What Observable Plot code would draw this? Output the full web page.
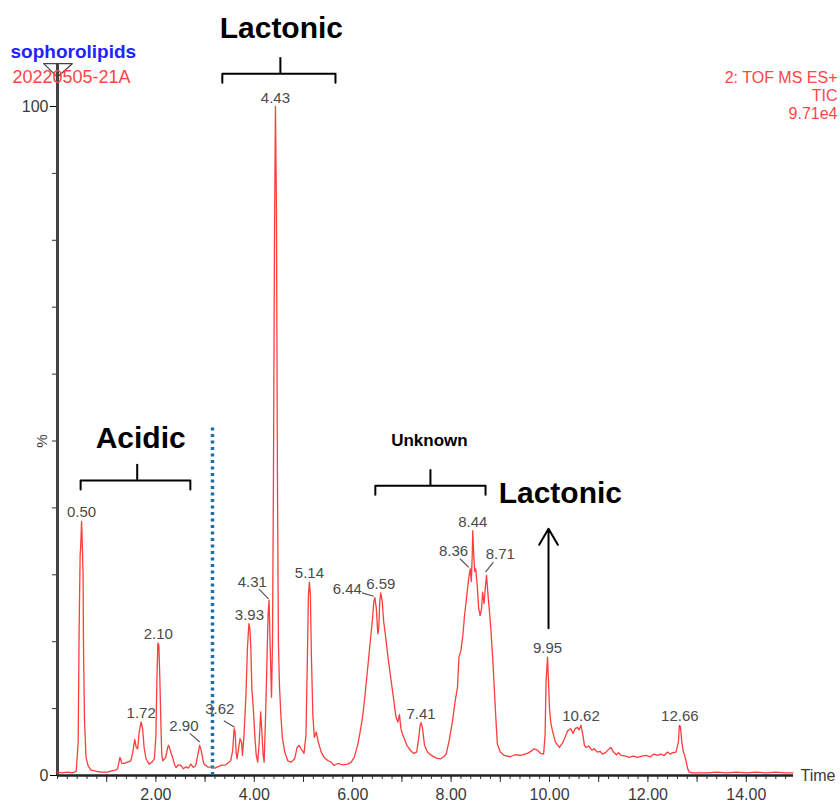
<!DOCTYPE html>
<html>
<head>
<meta charset="utf-8">
<script src="https://cdn.jsdelivr.net/npm/d3@7"></script>
<script src="https://cdn.jsdelivr.net/npm/@observablehq/plot@0.6"></script>
<style>
  html, body { margin: 0; padding: 0; background: #fff; }
  #chart svg { display: block; }
</style>
</head>
<body>
<div id="chart"></div>
<script>
// ---- Chromatogram trace (retention time in min, relative intensity %) ----
const times = [0.00,0.10,0.20,0.30,0.38,0.42,0.44,0.46,0.47,0.49,0.51,0.52,0.53,0.55,0.58,0.62,0.68,0.80,0.90,1.02,1.10,1.18,1.22,1.27,1.31,1.36,1.42,1.49,1.53,1.57,1.60,1.63,1.66,1.70,1.73,1.76,1.80,1.86,1.92,1.97,2.00,2.02,2.04,2.06,2.08,2.10,2.12,2.14,2.20,2.24,2.26,2.29,2.34,2.38,2.41,2.46,2.51,2.56,2.61,2.66,2.71,2.76,2.81,2.85,2.89,2.92,2.96,2.98,3.05,3.12,3.20,3.32,3.42,3.52,3.56,3.59,3.61,3.63,3.65,3.68,3.71,3.74,3.76,3.79,3.83,3.86,3.89,3.91,3.93,3.95,3.98,4.01,4.04,4.07,4.10,4.13,4.15,4.18,4.20,4.23,4.26,4.28,4.30,4.32,4.35,4.37,4.39,4.41,4.43,4.45,4.47,4.49,4.51,4.54,4.57,4.62,4.68,4.75,4.82,4.87,4.91,4.95,5.01,5.05,5.08,5.10,5.12,5.14,5.16,5.19,5.22,5.26,5.30,5.36,5.42,5.50,5.56,5.62,5.70,5.80,5.90,5.97,6.03,6.10,6.15,6.20,6.25,6.30,6.35,6.40,6.43,6.45,6.48,6.51,6.53,6.55,6.57,6.60,6.63,6.67,6.72,6.78,6.83,6.88,6.92,6.95,6.98,7.01,7.05,7.10,7.18,7.24,7.30,7.34,7.37,7.39,7.42,7.46,7.52,7.60,7.70,7.79,7.85,7.90,7.96,8.03,8.08,8.13,8.16,8.20,8.24,8.27,8.32,8.36,8.39,8.41,8.43,8.44,8.46,8.48,8.50,8.53,8.56,8.59,8.62,8.64,8.67,8.70,8.72,8.75,8.78,8.81,8.85,8.88,8.91,8.94,9.00,9.08,9.20,9.30,9.42,9.55,9.62,9.69,9.75,9.82,9.88,9.91,9.93,9.96,9.98,10.00,10.03,10.06,10.12,10.20,10.26,10.32,10.37,10.43,10.48,10.52,10.57,10.60,10.64,10.68,10.71,10.74,10.80,10.86,10.91,10.97,11.03,11.08,11.15,11.20,11.25,11.30,11.36,11.40,11.46,11.55,11.62,11.70,11.79,11.88,11.96,12.05,12.12,12.20,12.26,12.33,12.40,12.45,12.50,12.57,12.62,12.64,12.66,12.69,12.72,12.74,12.78,12.81,12.84,12.90,13.00,13.20,13.40,13.60,13.80,14.00,14.20,14.40,14.60,14.80,14.95];
const intensity = [0.5,0.4,0.5,0.4,0.6,5,22,33,34,38,33,30,18,8,2.7,1.5,0.8,0.6,0.5,0.5,0.7,0.8,1.0,2.7,1.8,1.8,2.0,2.2,3.5,5.4,4.2,4.0,6.5,8.0,7.0,4.2,2.5,1.7,2.0,2.5,6,14.2,19.8,19.5,14.5,8,3,2.2,2.7,4.2,4.5,3.8,2.7,1.6,1.2,1.6,1.5,1.0,1.3,1.1,1.7,1.2,1.5,3,4.5,3.8,2.2,1.7,1.3,1.2,1.1,1.5,1.6,2.2,3.7,7.0,6.5,3.5,2.5,4,5.5,5.0,3,6,12,19,22.7,22,19,13,10,6,3,2.0,5,9.5,7,3,2.0,9,18,24,26.2,20,11.7,20,45,80,100,85,45,20,13.7,9,5.7,3.5,2.2,2.0,2.5,4.2,4.5,4.0,3.3,6,18,27,28.9,27,18,9,5.7,6.5,5.0,3.5,2.7,2.2,2.0,1.5,1.8,1.6,1.7,2.0,2.7,4.5,6.5,8.7,12,15.7,19.5,23.2,26,26.6,25,21.2,22,26,27.3,26,23,20.7,17.5,14.2,11.5,8.7,8.0,9.1,7.0,6.2,5.5,4.5,3.7,3.3,3.5,5.5,7.5,7.9,7.0,4.5,3.5,3.0,2.6,2.5,2.8,3.2,5.2,8.2,11,13.2,17.7,18.7,21,23.7,27,29.6,30.9,29,33,36.6,33,30.5,30.9,28.5,25,23.9,25,27.4,25.7,28.5,29.9,27,24.5,21.7,17,12.7,8.5,4.7,3.5,3.0,2.8,3.1,3.0,3.3,3.6,4.0,3.8,3.3,3.2,6,14,17.7,14,10,7.7,6.7,5.0,4.2,4.8,5.8,6.7,7.0,6.3,7.0,7.2,6.8,7.5,6.0,4.5,4.2,4.4,3.8,4.0,3.5,3.6,3.2,3.5,3.9,4.2,3.5,3.1,3.4,3.0,2.9,2.7,2.9,2.7,2.9,3.0,2.8,3.2,3.0,3.2,3.0,3.5,3.2,3.4,3.5,5,7.5,7.3,5,3.5,3.2,2.0,1.0,0.5,0.4,0.4,0.4,0.5,0.4,0.5,0.4,0.5,0.4,0.5,0.4,0.4];

// ---- Peak labels placed directly above the apex ----
const peakLabels = ["0.50","1.72","2.10","3.93","4.43","5.14","6.59","7.41","8.44","9.95","10.62","12.66"];
const peakTimes  = [0.49, 1.70, 2.05, 3.90, 4.43, 5.12, 6.57, 7.39, 8.44, 9.96, 10.64, 12.65];
const peakHeights= [38, 8.0, 19.8, 22.7, 100, 28.9, 27.3, 7.9, 36.6, 17.7, 7.5, 7.5];

// ---- Peak labels with a leader line (label position, line start, line end) ----
const leaderLabels = ["2.90","3.62","4.31","6.44","8.36","8.71"];
const leaderTextT  = [2.57, 3.30, 3.96, 5.89, 8.05, 9.00];
const leaderTextY  = [7.3, 9.9, 28.9, 27.9, 33.6, 33.1];
const leaderFromT  = [2.69, 3.38, 4.09, 6.19, 8.18, 8.86];
const leaderFromY  = [6.3, 8.2, 27.9, 27.3, 32.4, 31.9];
const leaderToT    = [2.89, 3.60, 4.29, 6.43, 8.36, 8.70];
const leaderToY    = [5.0, 7.2, 26.4, 26.8, 31.1, 30.4];

// ---- Axis ticks ----
const xLabelTicks = [2, 4, 6, 8, 10, 12, 14];
const xMajorTicks = d3.range(1, 15);
const xMinorTicks = d3.range(0, 75).map(i => +(i * 0.2).toFixed(1));
const yTicks = [0, 10, 20, 30, 40, 50, 60, 70, 80, 90, 100];
const yLabelTicks = [0, 100];

// ---- Header texts ----
const sampleName = "sophorolipids";
const sampleId = "20220505-21A";
const traceInfo = ["2: TOF MS ES+", "TIC", "9.71e4"];

// ---- Group annotations ----
const groupNames = ["Lactonic", "Acidic", "Unknown", "Lactonic"];
const groupTextT = [4.55, 1.69, 7.56, 10.22];
const groupTextY = [111.7, 50.4, 50.1, 42.2];
const groupSizes = [30, 30, 17, 30];
const bracketStart = [3.35, 0.47, 6.46];
const bracketEnd   = [5.65, 2.70, 8.70];
const bracketMid   = [4.53, 1.62, 7.58];
const bracketLevel = [104.9, 44.1, 43.3];
const arrowT = [9.98];
const arrowFromY = [22.0];
const arrowToY = [36.9];
const dividerT = [3.15];
const dividerTop = [52.3];

// ---- Build tables ----
const trace = times.map((t, i) => ({t, v: intensity[i]}));
const peaks = peakLabels.map((label, i) => ({label, t: peakTimes[i], v: peakHeights[i]}));
const leaders = leaderLabels.map((label, i) => ({
  label, tt: leaderTextT[i], ty: leaderTextY[i],
  x1: leaderFromT[i], y1: leaderFromY[i], x2: leaderToT[i], y2: leaderToY[i]
}));
const groups = groupNames.map((name, i) => ({name, t: groupTextT[i], y: groupTextY[i], size: groupSizes[i]}));
const bracketPts = [];
bracketStart.forEach((s, i) => {
  const lv = bracketLevel[i], drop = 1.35;
  bracketPts.push({b: "b" + i, t: s, y: lv - drop});
  bracketPts.push({b: "b" + i, t: s, y: lv});
  bracketPts.push({b: "b" + i, t: bracketEnd[i], y: lv});
  bracketPts.push({b: "b" + i, t: bracketEnd[i], y: lv - drop});
});
const bracketTicks = bracketMid.map((m, i) => ({t: m, y1: bracketLevel[i], y2: bracketLevel[i] + 2.4}));

const font = "'Liberation Sans', Arial, Helvetica, sans-serif";
const infoStyle = {frameAnchor: "top-right", dx: 42, textAnchor: "end", lineAnchor: "bottom", fontSize: 16, fill: "#ff4545"};

const chart = Plot.plot({
  width: 840,
  height: 803,
  marginLeft: 57,
  marginRight: 45,
  marginTop: 106,
  marginBottom: 28,
  x: {domain: [0, 15]},
  y: {domain: [0, 100]},
  style: {fontFamily: font, background: "#fff"},
  marks: [
    // axes
    Plot.axisX({ticks: xMinorTicks, tickSize: 4, tickFormat: () => "", stroke: "#333", label: null}),
    Plot.axisX({ticks: xMajorTicks, tickSize: 7, tickFormat: () => "", stroke: "#333", label: null}),
    Plot.axisX({ticks: xLabelTicks, tickSize: 0, tickPadding: 13, tickFormat: d => d.toFixed(2),
                fontSize: 16, fill: "#3a3a3a", label: null}),
    Plot.axisY({ticks: yTicks, tickSize: 5, tickFormat: () => "", stroke: "#333", label: null}),
    Plot.axisY({ticks: yLabelTicks, tickSize: 7, tickPadding: 2, fontSize: 16, fill: "#3a3a3a", label: null}),
    Plot.text(["%"], {x: 0, y: 50, dx: -15, rotate: -90, fontSize: 15, fill: "#3a3a3a"}),
    Plot.text(["Time"], {x: 15, y: 0, dx: 5, textAnchor: "start", fontSize: 16, fill: "#3a3a3a"}),
    Plot.ruleY([0], {x1: 0, x2: 14.96, stroke: "#222", strokeWidth: 2.5}),
    Plot.ruleX([0], {y1: 0, y2: 106.4, stroke: "#444", strokeWidth: 3}),
    Plot.line([{t: -0.28, y: 106.4}, {t: 0.30, y: 106.4}, {t: 0, y: 104.4}, {t: -0.28, y: 106.4}],
              {x: "t", y: "y", stroke: "#444", strokeWidth: 1.2}),
    // divider
    Plot.ruleX(dividerT.map((t, i) => ({t, top: dividerTop[i]})),
               {x: "t", y1: 0, y2: "top", stroke: "#1f6ea8", strokeWidth: 3.5, strokeDasharray: "3,3.5"}),
    // trace
    Plot.line(trace, {x: "t", y: "v", stroke: "#ff3d3d", strokeWidth: 1.3, curve: "linear"}),
    // peak labels
    Plot.text(peaks, {x: "t", y: "v", text: "label", dy: -4, lineAnchor: "bottom", fontSize: 15, fill: "#4a4a4a"}),
    Plot.link(leaders, {x1: "x1", y1: "y1", x2: "x2", y2: "y2", stroke: "#555", strokeWidth: 1.2}),
    Plot.text(leaders, {x: "tt", y: "ty", text: "label", fontSize: 15, fill: "#4a4a4a"}),
    // group annotations
    Plot.text(groups, {x: "t", y: "y", text: "name", fontSize: d => d.size, fontWeight: "bold", fill: "#000"}),
    Plot.line(bracketPts, {x: "t", y: "y", z: "b", stroke: "#000", strokeWidth: 2}),
    Plot.ruleX(bracketTicks, {x: "t", y1: "y1", y2: "y2", stroke: "#000", strokeWidth: 2}),
    Plot.arrow(arrowT.map((t, i) => ({t, a: arrowFromY[i], b: arrowToY[i]})),
               {x1: "t", y1: "a", x2: "t", y2: "b", stroke: "#000", strokeWidth: 2, headLength: 14}),
    // header
    Plot.text([sampleName], {frameAnchor: "top-left", dx: -47, dy: -49, textAnchor: "start", lineAnchor: "bottom",
              fontSize: 19, fontWeight: "bold", fill: "#2323ff"}),
    Plot.text([sampleId], {frameAnchor: "top-left", dx: -45, dy: -24, textAnchor: "start", lineAnchor: "bottom",
              fontSize: 18, fill: "#ff4545"}),
    Plot.text([traceInfo[0]], {...infoStyle, dy: -24}),
    Plot.text([traceInfo[1]], {...infoStyle, dy: -6}),
    Plot.text([traceInfo[2]], {...infoStyle, dy: 12})
  ]
});
document.getElementById("chart").appendChild(chart);
</script>
</body>
</html>
